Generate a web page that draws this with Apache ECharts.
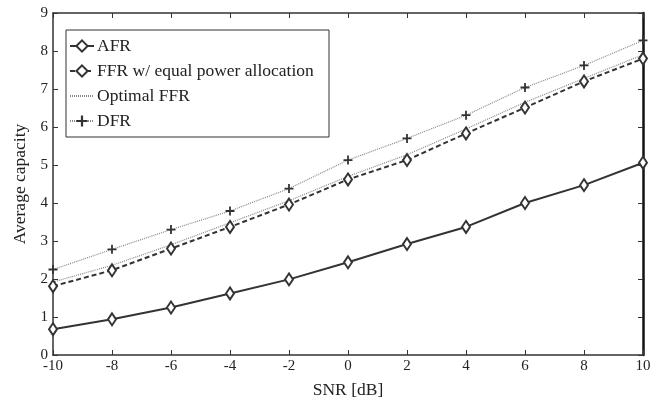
<!DOCTYPE html>
<html>
<head>
<meta charset="utf-8">
<script src="https://cdn.jsdelivr.net/npm/echarts@6/dist/echarts.min.js"></script>
<style>
	html, body { margin: 0; padding: 0; background: #fff; }
	#chart { width: 659px; height: 405px; }
</style>
</head>
<body>
<div id="chart"></div>
<script>
	// SNR values along the x axis
	const snr = [-10, -8, -6, -4, -2, 0, 2, 4, 6, 8, 10]
	const afr = [0.68, 0.94, 1.25, 1.62, 1.99, 2.44, 2.92, 3.37, 4.0, 4.47, 5.06]
	const ffrEqual = [1.81, 2.23, 2.8, 3.37, 3.96, 4.62, 5.13, 5.83, 6.51, 7.2, 7.8]
	const ffrOptimal = [1.92, 2.36, 2.9, 3.48, 4.06, 4.7, 5.27, 5.95, 6.65, 7.28, 7.9]
	const dfr = [2.25, 2.78, 3.3, 3.79, 4.38, 5.13, 5.7, 6.31, 7.04, 7.62, 8.28]

	const serif = '"Liberation Serif", "DejaVu Serif", serif'
	const dark = '#333'
	const plus = 'path://M4,0h2v4h4v2h-4v4h-2v-4h-4v-2h4z'

	function pairs(ys) {
		return snr.map((x, i) => [x, ys[i]])
	}

	const chart = echarts.init(document.getElementById('chart'))

	const axisCommon = {
		axisLine: { show: true, onZero: false, lineStyle: { color: dark, width: 1.5 } },
		axisTick: { show: true, inside: true, length: 5, lineStyle: { color: dark, width: 1 } },
		splitLine: { show: false }
	}

	chart.setOption({
		animation: false,
		textStyle: { fontFamily: serif },
		grid: { left: 53, right: 16, top: 13, bottom: 50 },
		graphic: [{
			type: 'rect',
			shape: { x: 66, y: 30, width: 263, height: 107 },
			style: { fill: '#fff', stroke: dark, lineWidth: 1 },
			z: 10
		}],
		legend: {
			orient: 'vertical',
			left: 69,
			top: 37,
			padding: 0,
			itemGap: 7,
			itemWidth: 24,
			itemHeight: 14,
			z: 20,
			textStyle: { fontFamily: serif, fontSize: 17.5, color: '#222', padding: [0, 0, 0, -2] },
			data: ['AFR', 'FFR w/ equal power allocation', 'Optimal FFR', 'DFR']
		},
		xAxis: [
			Object.assign({
				type: 'value', min: -10, max: 10, interval: 2,
				name: 'SNR [dB]', nameLocation: 'middle', nameGap: 26,
				nameTextStyle: { fontFamily: serif, fontSize: 17.5, color: '#222' },
				axisLabel: { fontFamily: serif, fontSize: 15, color: '#222', margin: 4 }
			}, axisCommon),
			Object.assign({
				type: 'value', min: -10, max: 10, interval: 2, position: 'top',
				axisLabel: { show: false }
			}, axisCommon)
		],
		yAxis: [
			Object.assign({
				type: 'value', min: 0, max: 9, interval: 1,
				name: 'Average capacity', nameLocation: 'middle', nameGap: 24,
				nameTextStyle: { fontFamily: serif, fontSize: 17.5, color: '#222' },
				axisLabel: { fontFamily: serif, fontSize: 15, color: '#222', margin: 5 }
			}, axisCommon),
			Object.assign({
				type: 'value', min: 0, max: 9, interval: 1, position: 'right',
				axisLabel: { show: false }
			}, axisCommon, { axisLine: { show: true, onZero: false, lineStyle: { color: '#111', width: 2.5 } } })
		],
		series: [
			{
				name: 'AFR', type: 'line', data: pairs(afr),
				symbol: 'diamond', symbolSize: [8, 12],
				lineStyle: { color: dark, width: 2 },
				itemStyle: { color: '#fff', borderColor: dark, borderWidth: 2 },
				z: 5
			},
			{
				name: 'FFR w/ equal power allocation', type: 'line', data: pairs(ffrEqual),
				symbol: 'diamond', symbolSize: [8, 12],
				lineStyle: { color: dark, width: 2, type: [5, 3] },
				itemStyle: { color: '#fff', borderColor: dark, borderWidth: 2 },
				z: 4
			},
			{
				name: 'Optimal FFR', type: 'line', data: pairs(ffrOptimal),
				symbol: 'none',
				lineStyle: { color: '#888', width: 1.2, type: [1, 1] },
				itemStyle: { color: 'rgba(0,0,0,0)' },
				z: 3
			},
			{
				name: 'DFR', type: 'line', data: pairs(dfr),
				symbol: plus, symbolSize: 9,
				lineStyle: { color: '#888', width: 1.2, type: [1, 1] },
				itemStyle: { color: dark },
				z: 3
			}
		]
	})
</script>
</body>
</html>
